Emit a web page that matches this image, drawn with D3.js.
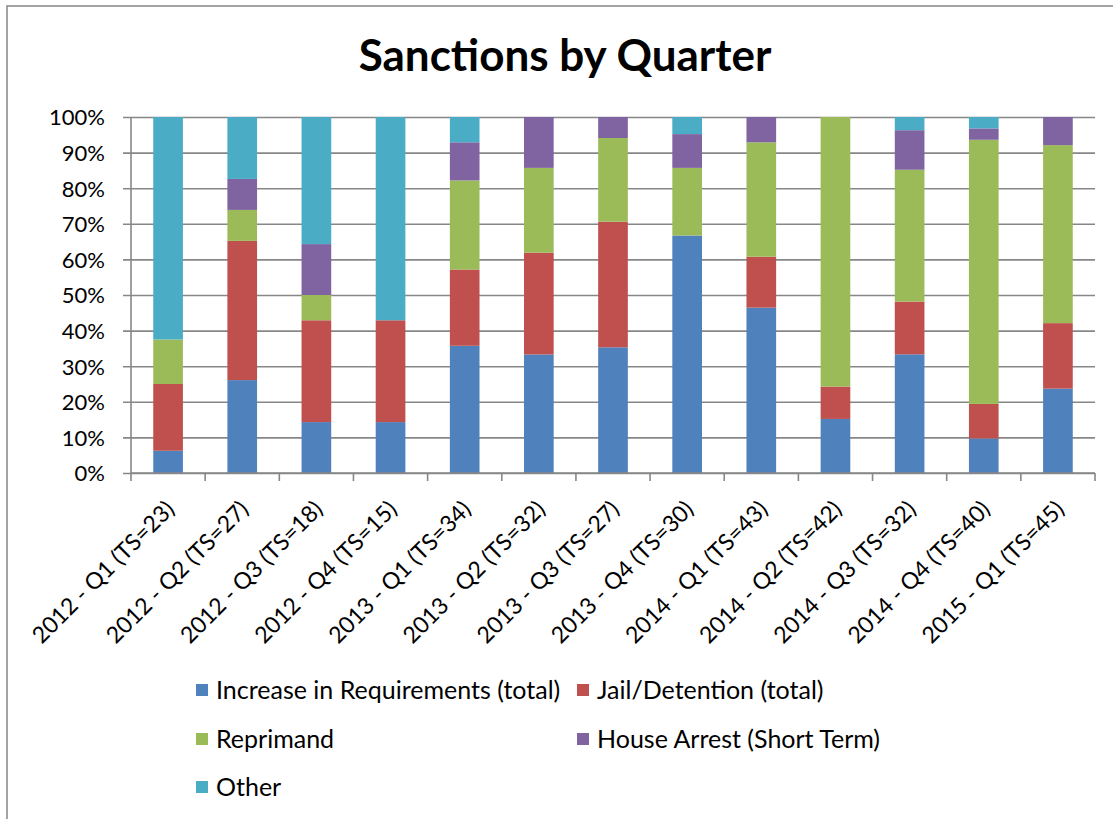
<!DOCTYPE html>
<html>
<head>
<meta charset="utf-8">
<script src="https://cdn.jsdelivr.net/npm/d3@7"></script>
<style>
  html, body { margin: 0; padding: 0; background: #fff; }
  svg { display: block; font-family: Lato, "Open Sans", sans-serif; }
</style>
</head>
<body>
<svg id="chart" width="1113" height="819"></svg>
<script>
const title = "Sanctions by Quarter";
const categories = [
  "2012 - Q1 (TS=23)", "2012 - Q2 (TS=27)", "2012 - Q3 (TS=18)", "2012 - Q4 (TS=15)",
  "2013 - Q1 (TS=34)", "2013 - Q2 (TS=32)", "2013 - Q3 (TS=27)", "2013 - Q4 (TS=30)",
  "2014 - Q1 (TS=43)", "2014 - Q2 (TS=42)", "2014 - Q3 (TS=32)", "2014 - Q4 (TS=40)",
  "2015 - Q1 (TS=45)"
];
const seriesNames = [
  "Increase in Requirements (total)", "Jail/Detention (total)", "Reprimand",
  "House Arrest (Short Term)", "Other"
];
const increase    = [6.25, 26.1, 14.3, 14.3, 35.7, 33.3, 35.3, 66.7, 46.4, 15.2, 33.3, 9.7, 23.7];
const jail        = [18.75, 39.1, 28.6, 28.6, 21.4, 28.6, 35.3, 0, 14.3, 9.1, 14.8, 9.7, 18.4];
const reprimand   = [12.5, 8.7, 7.1, 0, 25.0, 23.8, 23.5, 19.0, 32.1, 75.8, 37.0, 74.2, 50.0];
const houseArrest = [0, 8.7, 14.3, 0, 10.7, 14.3, 5.9, 9.5, 7.1, 0, 11.1, 3.2, 7.9];
const other       = [62.5, 17.4, 35.7, 57.1, 7.1, 0, 0, 4.8, 0, 0, 3.7, 3.2, 0];
const yTicks = [0, 0.1, 0.2, 0.3, 0.4, 0.5, 0.6, 0.7, 0.8, 0.9, 1.0];
const colors = ["#4F81BD", "#C0504D", "#9BBB59", "#8064A2", "#4BACC6"];

const seriesValues = [increase, jail, reprimand, houseArrest, other];
const rows = categories.map((c, i) => {
  const r = { cat: c };
  seriesNames.forEach((s, k) => r[s] = seriesValues[k][i]);
  return r;
});

const svg = d3.select("#chart");
const gridColor = "#878787";

// outer chart border
svg.append("rect")
  .attr("x", 7).attr("y", 6).attr("width", 1200).attr("height", 900)
  .attr("fill", "none").attr("stroke", gridColor).attr("stroke-width", 1.5);

const plotLeft = 131, plotRight = 1095, plotTop = 117, plotBottom = 473;
const x = d3.scaleBand().domain(categories).range([plotLeft, plotRight]).paddingInner(0.6).paddingOuter(0.3);
const y = d3.scaleLinear().domain([0, 1]).range([plotBottom, plotTop]);

// title
svg.append("text")
  .attr("x", 565).attr("y", 71)
  .attr("text-anchor", "middle")
  .attr("font-weight", "bold")
  .attr("font-size", 44)
  .attr("fill", "#000")
  .text(title);

// gridlines + y axis ticks
const yAxis = d3.axisLeft(y).tickValues(yTicks).tickFormat(d3.format(".0%"))
  .tickSize(-(plotRight - plotLeft)).tickSizeOuter(0).tickPadding(0);
const gy = svg.append("g").attr("transform", `translate(${plotLeft},0)`).call(yAxis);
gy.select(".domain").remove();
gy.selectAll(".tick line")
  .attr("x1", -8)
  .attr("stroke", gridColor).attr("stroke-width", 1.6);
gy.selectAll(".tick text")
  .attr("x", -26).attr("dy", "0.36em")
  .attr("font-size", 22).attr("fill", "#000")
  .attr("font-family", "Lato, sans-serif");

// y axis line
svg.append("line")
  .attr("x1", plotLeft).attr("x2", plotLeft).attr("y1", plotTop).attr("y2", plotBottom)
  .attr("stroke", gridColor).attr("stroke-width", 1.6);

// stacked bars
const stack = d3.stack().keys(seriesNames).offset(d3.stackOffsetExpand);
const stacked = stack(rows);
svg.append("g").selectAll("g")
  .data(stacked).join("g")
  .attr("fill", (d, i) => colors[i])
  .selectAll("rect")
  .data(d => d).join("rect")
  .attr("x", d => x(d.data.cat))
  .attr("width", x.bandwidth())
  .attr("y", d => y(d[1]))
  .attr("height", d => Math.max(0, y(d[0]) - y(d[1])));

// x axis line and ticks at category boundaries
svg.append("line")
  .attr("x1", plotLeft).attr("x2", plotRight).attr("y1", plotBottom).attr("y2", plotBottom)
  .attr("stroke", gridColor).attr("stroke-width", 1.6);
const step = x.step();
const boundaries = d3.range(categories.length + 1).map(i => plotLeft + i * step);
svg.append("g").selectAll("line")
  .data(boundaries).join("line")
  .attr("x1", d => d).attr("x2", d => d)
  .attr("y1", plotBottom).attr("y2", plotBottom + 8)
  .attr("stroke", gridColor).attr("stroke-width", 1.6);

// x labels rotated -45
svg.append("g").selectAll("text")
  .data(categories).join("text")
  .attr("transform", d => `translate(${x(d) + x.bandwidth() / 2 + 2},${plotBottom + 32}) rotate(-45)`)
  .attr("text-anchor", "end")
  .attr("dy", "0.35em")
  .attr("font-size", 23)
  .attr("fill", "#000")
  .text(d => d);

// legend
const legendItems = [
  { name: seriesNames[0], color: colors[0], x: 196, y: 690 },
  { name: seriesNames[1], color: colors[1], x: 577, y: 690 },
  { name: seriesNames[2], color: colors[2], x: 196, y: 739 },
  { name: seriesNames[3], color: colors[3], x: 577, y: 739 },
  { name: seriesNames[4], color: colors[4], x: 196, y: 787 }
];
const lg = svg.append("g").selectAll("g").data(legendItems).join("g")
  .attr("transform", d => `translate(${d.x},${d.y})`);
lg.append("rect").attr("x", 0).attr("y", -6).attr("width", 12).attr("height", 12)
  .attr("fill", d => d.color);
lg.append("text").attr("x", 20).attr("dy", "0.36em")
  .attr("font-size", 25).attr("fill", "#000")
  .text(d => d.name);
</script>
</body>
</html>
